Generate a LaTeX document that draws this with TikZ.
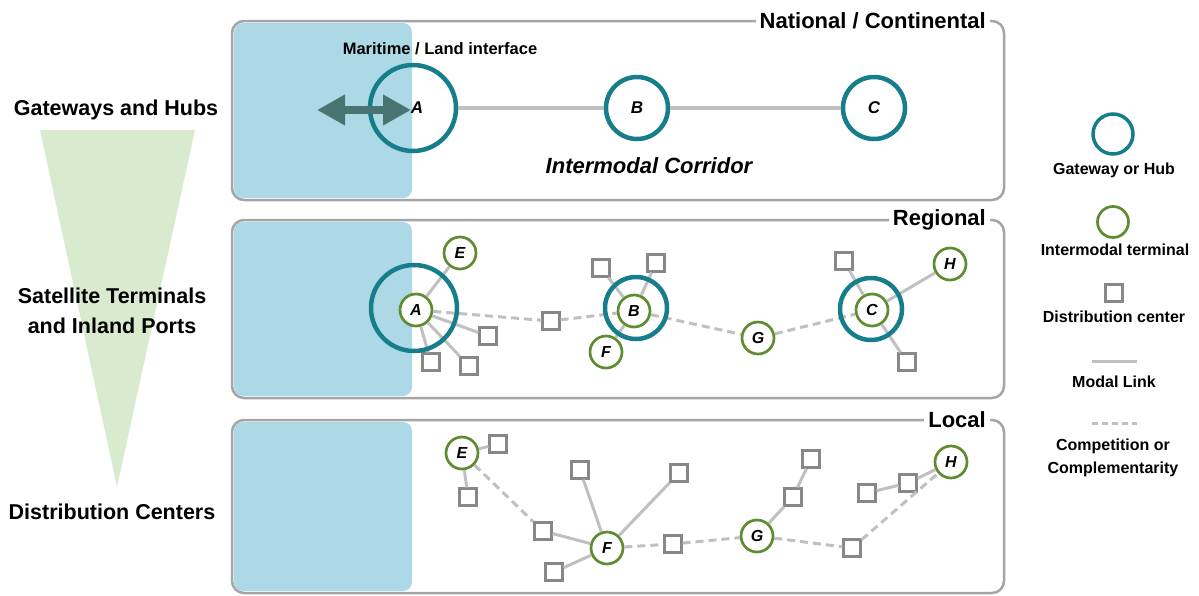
\documentclass[tikz,border=0pt]{standalone}
\usepackage{fontspec}
\setmainfont{Liberation Sans}
\usepackage{tikz}
\usetikzlibrary{arrows.meta}

\definecolor{hubteal}{RGB}{22,125,139}
\definecolor{termgreen}{RGB}{94,140,49}
\definecolor{seablue}{RGB}{173,216,230}
\definecolor{linkgray}{RGB}{192,192,192}
\definecolor{boxgray}{RGB}{135,135,135}
\definecolor{framegray}{RGB}{165,165,165}
\definecolor{arrowteal}{RGB}{74,116,114}
\definecolor{wedgegreen}{RGB}{217,235,207}

\tikzstyle{panel} = [draw=framegray, line width=2.5pt, rounded corners=12pt]
\tikzstyle{sea} = [fill=seablue, rounded corners=9pt]
\tikzstyle{paneltitle} = [fill=white, anchor=east, inner sep=4pt,
font=\fontsize{22}{24}\selectfont\bfseries]
\tikzstyle{hub} = [circle, draw=hubteal, line width=4.5pt, inner sep=0pt,
font=\fontsize{17}{17}\selectfont\bfseries\itshape]
\tikzstyle{bighub} = [hub, minimum size=86pt]
\tikzstyle{smallhub} = [hub, minimum size=62pt]
\tikzstyle{terminal} = [circle, draw=termgreen, fill=white, line width=2.7pt,
minimum size=32pt, inner sep=0pt,
font=\fontsize{16}{16}\selectfont\bfseries\itshape]
\tikzstyle{depot} = [rectangle, draw=boxgray, fill=white, line width=2.2pt,
minimum size=17pt, inner sep=0pt]
\tikzstyle{link} = [draw=linkgray, line width=3pt]
\tikzstyle{rival} = [link, dash pattern=on 8pt off 5pt]
\tikzstyle{seaarrow} = [draw=arrowteal, line width=8pt,
{Triangle[length=28pt,width=29pt]}-{Triangle[length=28pt,width=29pt]}]
\tikzstyle{tierlabel} = [align=center, font=\fontsize{21.5}{30}\selectfont\bfseries]
\tikzstyle{keytext} = [align=center, font=\fontsize{16}{23}\selectfont\bfseries]

\begin{document}
\begin{tikzpicture}[x=1pt, y=-1pt]
    \useasboundingbox (0,0) rectangle (1199,595);

    % left: hierarchy wedge
    \fill [wedgegreen] (40,130) -- (195,130) -- (117,487) -- cycle;
    \node (tier1) [tierlabel] at (116,110) {Gateways and Hubs};
    \node (tier2) [tierlabel] at (112,311) {Satellite Terminals\\and Inland Ports};
    \node (tier3) [tierlabel] at (112,512) {Distribution Centers};

    % national / continental
    \fill [sea] (234,23) rectangle (412,198);
    \draw [panel] (232,21) rectangle (1004,200);
    \node (natl) [paneltitle] at (990,21) {National / Continental};
    \node (gA) [bighub] at (413,108) {\hspace*{8pt}A};
    \node (gB) [smallhub] at (637,108) {B};
    \node (gC) [smallhub] at (874,108) {C};
    \draw [link, line width=3.5pt] (gA) -- (gB);
    \draw [link, line width=3.5pt] (gB) -- (gC);
    \coordinate (open) at (317,110);
    \coordinate (quay) at (411,110);
    \draw [seaarrow] (open) -- (quay);
    \node (iface) [font=\fontsize{16.5}{18}\selectfont\bfseries] at (440,49) {Maritime / Land interface};
    \node (corr) [font=\fontsize{22}{24}\selectfont\bfseries\itshape] at (649,166) {Intermodal Corridor};

    % regional
    \fill [sea] (234,222) rectangle (412,396);
    \draw [panel] (232,220) rectangle (1004,398);
    \node (regl) [paneltitle] at (990,220) {Regional};
    \node (rtA) [terminal] at (416,310) {A};
    \node (rtB) [terminal] at (634,311) {B};
    \node (rtC) [terminal] at (872,310) {C};
    \node (rE) [terminal] at (460,253) {E};
    \node (rF) [terminal] at (606,352) {F};
    \node (rG) [terminal] at (758,338) {G};
    \node (rH) [terminal] at (950,264) {H};
    \node (ra1) [depot] at (488,336) {};
    \node (ra2) [depot] at (431,362) {};
    \node (ra3) [depot] at (469,366) {};
    \node (rm1) [depot] at (551,321) {};
    \node (rb1) [depot] at (601,268) {};
    \node (rb2) [depot] at (656,263) {};
    \node (rc1) [depot] at (844,261) {};
    \node (rc2) [depot] at (907,362) {};
    \draw [link] (rtA) -- (rE);
    \draw [link] (rtA) -- (ra1);
    \draw [link] (rtA) -- (ra2);
    \draw [link] (rtA) -- (ra3);
    \draw [link] (rtB) -- (rb1);
    \draw [link] (rtB) -- (rb2);
    \draw [link] (rtB) -- (rF);
    \draw [link] (rtC) -- (rc1);
    \draw [link] (rtC) -- (rc2);
    \draw [link] (rtC) -- (rH);
    \draw [rival] (rtA) -- (rm1);
    \draw [rival] (rm1) -- (rtB);
    \draw [rival] (rtB) -- (rG);
    \draw [rival] (rG) -- (rtC);
    \node (rhA) [bighub] at (414,308) {};
    \node (rhB) [smallhub] at (636,308) {};
    \node (rhC) [smallhub] at (871,309) {};

    % local
    \fill [sea] (234,422) rectangle (412,591);
    \draw [panel] (232,420) rectangle (1004,593);
    \node (locl) [paneltitle] at (990,420) {Local};
    \node (lE) [terminal] at (462,453) {E};
    \node (lF) [terminal] at (607,548) {F};
    \node (lG) [terminal] at (757,536) {G};
    \node (lH) [terminal] at (951,462) {H};
    \node (le1) [depot] at (498,444) {};
    \node (le2) [depot] at (468,497) {};
    \node (lf0) [depot] at (543,531) {};
    \node (lf1) [depot] at (580,470) {};
    \node (lf2) [depot] at (679,473) {};
    \node (lf3) [depot] at (554,572) {};
    \node (lf4) [depot] at (673,544) {};
    \node (lg1) [depot] at (793,497) {};
    \node (lg2) [depot] at (811,459) {};
    \node (lg3) [depot] at (852,548) {};
    \node (lh1) [depot] at (908,483) {};
    \node (lh2) [depot] at (867,493) {};
    \draw [link] (lE) -- (le1);
    \draw [link] (lE) -- (le2);
    \draw [link] (lf0) -- (lF);
    \draw [link] (lF) -- (lf1);
    \draw [link] (lF) -- (lf2);
    \draw [link] (lF) -- (lf3);
    \draw [link] (lG) -- (lg1);
    \draw [link] (lg1) -- (lg2);
    \draw [link] (lH) -- (lh1);
    \draw [link] (lh1) -- (lh2);
    \draw [rival] (lE) -- (lf0);
    \draw [rival] (lF) -- (lf4);
    \draw [rival] (lf4) -- (lG);
    \draw [rival] (lG) -- (lg3);
    \draw [rival] (lg3) -- (lH);

    % legend
    \node (keyhub) [hub, minimum size=40pt, line width=3.5pt] at (1113,134) {};
    \node (keyhubtxt) [keytext] at (1114,170) {Gateway or Hub};
    \node (keyterm) [terminal, minimum size=31pt] at (1113,222) {};
    \node (keytermtxt) [keytext] at (1115,250) {Intermodal terminal};
    \node (keydepot) [depot] at (1114,293) {};
    \node (keydepottxt) [keytext] at (1114,317) {Distribution center};
    \coordinate (keylinkL) at (1092,361);
    \coordinate (keylinkR) at (1137,361);
    \draw [link] (keylinkL) -- (keylinkR);
    \node (keylinktxt) [keytext] at (1114,382) {Modal Link};
    \coordinate (keyrivalL) at (1092,423);
    \coordinate (keyrivalR) at (1137,423);
    \draw [rival, dash pattern=on 6pt off 4pt] (keyrivalL) -- (keyrivalR);
    \node (keyrivaltxt) [keytext] at (1113,458) {Competition or\\Complementarity};
\end{tikzpicture}
\end{document}
